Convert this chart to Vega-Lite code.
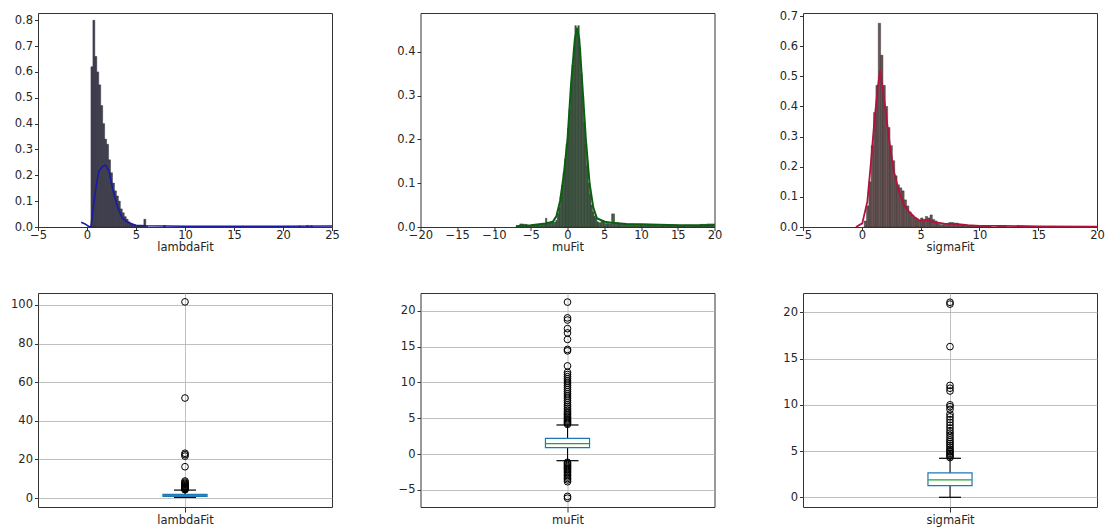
{
  "$schema": "https://vega.github.io/schema/vega-lite/v6.json",
  "background": "white",
  "padding": {"left": 10, "top": 9, "right": 5, "bottom": 3},
  "config": {
    "font": "DejaVu Sans",
    "view": {"stroke": "#333333", "strokeWidth": 1},
    "axis": {
      "labelFont": "DejaVu Sans", "labelFontSize": 11.5, "labelColor": "#262626",
      "titleFont": "DejaVu Sans", "titleFontSize": 11.5, "titleFontWeight": "normal", "titleColor": "#262626",
      "tickColor": "#333333", "tickSize": 3.5, "labelPadding": 2, "titlePadding": 3,
      "labelOverlap": false, "labelFlush": false, "labelBound": false,
      "domain": false, "grid": false, "gridColor": "#b0b0b0", "gridWidth": 0.8
    }
  },
  "datasets": {
    "lambdaHist": [
      {"x": 0.4, "end": 0.6, "density": 0.62},
      {"x": 0.6, "end": 0.8, "density": 0.8},
      {"x": 0.8, "end": 1.0, "density": 0.66},
      {"x": 1.0, "end": 1.2, "density": 0.6},
      {"x": 1.2, "end": 1.4, "density": 0.55},
      {"x": 1.4, "end": 1.6, "density": 0.47},
      {"x": 1.6, "end": 1.8, "density": 0.4},
      {"x": 1.8, "end": 2.0, "density": 0.34},
      {"x": 2.0, "end": 2.2, "density": 0.32},
      {"x": 2.2, "end": 2.4, "density": 0.26},
      {"x": 2.4, "end": 2.6, "density": 0.21},
      {"x": 2.6, "end": 2.8, "density": 0.17},
      {"x": 2.8, "end": 3.0, "density": 0.14},
      {"x": 3.0, "end": 3.2, "density": 0.12},
      {"x": 3.2, "end": 3.4, "density": 0.1},
      {"x": 3.4, "end": 3.6, "density": 0.07},
      {"x": 3.6, "end": 3.8, "density": 0.055},
      {"x": 3.8, "end": 4.0, "density": 0.04},
      {"x": 4.0, "end": 4.2, "density": 0.03},
      {"x": 4.2, "end": 4.4, "density": 0.02},
      {"x": 4.4, "end": 4.6, "density": 0.015},
      {"x": 4.6, "end": 4.8, "density": 0.01},
      {"x": 4.8, "end": 5.0, "density": 0.008},
      {"x": 5.0, "end": 5.2, "density": 0.006},
      {"x": 5.2, "end": 5.4, "density": 0.005},
      {"x": 5.4, "end": 5.6, "density": 0.004},
      {"x": 5.6, "end": 5.8, "density": 0.004},
      {"x": 5.8, "end": 6.0, "density": 0.03},
      {"x": 6.0, "end": 6.2, "density": 0.004},
      {"x": 7.8, "end": 8.0, "density": 0.006},
      {"x": 15.8, "end": 16.0, "density": 0.003},
      {"x": 21.6, "end": 21.8, "density": 0.004},
      {"x": 22.4, "end": 22.6, "density": 0.006},
      {"x": 22.8, "end": 23.0, "density": 0.005}
    ],
    "lambdaKde": [
      {"x": -0.6, "density": 0.018},
      {"x": -0.2, "density": 0.012},
      {"x": 0.1, "density": 0.004},
      {"x": 0.4, "density": 0.0},
      {"x": 0.65, "density": 0.08},
      {"x": 0.9, "density": 0.15},
      {"x": 1.2, "density": 0.215},
      {"x": 1.5, "density": 0.232},
      {"x": 1.9, "density": 0.24},
      {"x": 2.25, "density": 0.215},
      {"x": 2.6, "density": 0.15},
      {"x": 3.1, "density": 0.08},
      {"x": 3.6, "density": 0.034},
      {"x": 4.3, "density": 0.015},
      {"x": 5.0, "density": 0.007},
      {"x": 6.0, "density": 0.005},
      {"x": 10.0, "density": 0.003},
      {"x": 15.0, "density": 0.003},
      {"x": 20.0, "density": 0.003},
      {"x": 25.0, "density": 0.004}
    ],
    "muHist": [
      {"x": -7.0, "end": -6.5, "density": 0.003},
      {"x": -6.5, "end": -6.0, "density": 0.007},
      {"x": -6.0, "end": -5.5, "density": 0.006},
      {"x": -5.5, "end": -5.0, "density": 0.003},
      {"x": -5.0, "end": -4.5, "density": 0.004},
      {"x": -4.5, "end": -4.0, "density": 0.005},
      {"x": -4.0, "end": -3.5, "density": 0.006},
      {"x": -3.5, "end": -3.0, "density": 0.007},
      {"x": -3.0, "end": -2.8, "density": 0.02},
      {"x": -2.8, "end": -2.4, "density": 0.008},
      {"x": -2.4, "end": -2.0, "density": 0.009},
      {"x": -2.0, "end": -1.6, "density": 0.011},
      {"x": -1.6, "end": -1.4, "density": 0.015},
      {"x": -1.4, "end": -1.2, "density": 0.03},
      {"x": -1.2, "end": -1.0, "density": 0.045},
      {"x": -1.0, "end": -0.8, "density": 0.07},
      {"x": -0.8, "end": -0.6, "density": 0.095},
      {"x": -0.6, "end": -0.4, "density": 0.125},
      {"x": -0.4, "end": -0.2, "density": 0.155},
      {"x": -0.2, "end": 0.0, "density": 0.19},
      {"x": 0.0, "end": 0.2, "density": 0.225},
      {"x": 0.2, "end": 0.4, "density": 0.27},
      {"x": 0.4, "end": 0.6, "density": 0.32},
      {"x": 0.6, "end": 0.8, "density": 0.37},
      {"x": 0.8, "end": 1.0, "density": 0.41},
      {"x": 1.0, "end": 1.2, "density": 0.46},
      {"x": 1.2, "end": 1.4, "density": 0.445},
      {"x": 1.4, "end": 1.6, "density": 0.46},
      {"x": 1.6, "end": 1.8, "density": 0.41},
      {"x": 1.8, "end": 2.0, "density": 0.35},
      {"x": 2.0, "end": 2.2, "density": 0.3},
      {"x": 2.2, "end": 2.4, "density": 0.24},
      {"x": 2.4, "end": 2.6, "density": 0.19},
      {"x": 2.6, "end": 2.8, "density": 0.14},
      {"x": 2.8, "end": 3.0, "density": 0.1},
      {"x": 3.0, "end": 3.2, "density": 0.075},
      {"x": 3.2, "end": 3.4, "density": 0.05},
      {"x": 3.4, "end": 3.6, "density": 0.035},
      {"x": 3.6, "end": 3.8, "density": 0.025},
      {"x": 3.8, "end": 4.0, "density": 0.02},
      {"x": 4.0, "end": 4.2, "density": 0.012},
      {"x": 4.2, "end": 4.6, "density": 0.01},
      {"x": 4.6, "end": 5.0, "density": 0.015},
      {"x": 5.0, "end": 5.5, "density": 0.008},
      {"x": 5.5, "end": 6.0, "density": 0.008},
      {"x": 6.0, "end": 6.4, "density": 0.03},
      {"x": 6.4, "end": 7.0, "density": 0.01},
      {"x": 7.0, "end": 8.0, "density": 0.008},
      {"x": 8.0, "end": 9.0, "density": 0.007},
      {"x": 9.0, "end": 10.0, "density": 0.006},
      {"x": 10.0, "end": 11.0, "density": 0.006},
      {"x": 11.0, "end": 12.0, "density": 0.005},
      {"x": 12.0, "end": 13.0, "density": 0.004},
      {"x": 13.0, "end": 14.0, "density": 0.004},
      {"x": 14.0, "end": 15.0, "density": 0.005},
      {"x": 15.0, "end": 16.0, "density": 0.003},
      {"x": 16.0, "end": 17.0, "density": 0.004},
      {"x": 17.0, "end": 18.0, "density": 0.003},
      {"x": 18.0, "end": 19.0, "density": 0.006},
      {"x": 19.0, "end": 20.0, "density": 0.007}
    ],
    "muKde": [
      {"x": -7.0, "density": 0.002},
      {"x": -5.0, "density": 0.004},
      {"x": -3.0, "density": 0.008},
      {"x": -2.0, "density": 0.012},
      {"x": -1.5, "density": 0.025},
      {"x": -1.0, "density": 0.06},
      {"x": -0.5, "density": 0.12},
      {"x": 0.0, "density": 0.2},
      {"x": 0.5, "density": 0.33},
      {"x": 1.0, "density": 0.43},
      {"x": 1.3, "density": 0.455},
      {"x": 1.6, "density": 0.43},
      {"x": 2.0, "density": 0.33},
      {"x": 2.5, "density": 0.2},
      {"x": 3.0, "density": 0.1},
      {"x": 3.5, "density": 0.045},
      {"x": 4.0, "density": 0.02},
      {"x": 5.0, "density": 0.012},
      {"x": 6.0, "density": 0.01},
      {"x": 8.0, "density": 0.007},
      {"x": 10.0, "density": 0.006},
      {"x": 15.0, "density": 0.004},
      {"x": 20.0, "density": 0.004}
    ],
    "sigmaHist": [
      {"x": 0.2, "end": 0.4, "density": 0.02},
      {"x": 0.4, "end": 0.6, "density": 0.07},
      {"x": 0.6, "end": 0.8, "density": 0.15},
      {"x": 0.8, "end": 1.0, "density": 0.27},
      {"x": 1.0, "end": 1.2, "density": 0.38},
      {"x": 1.2, "end": 1.4, "density": 0.47},
      {"x": 1.4, "end": 1.6, "density": 0.676},
      {"x": 1.6, "end": 1.8, "density": 0.57},
      {"x": 1.8, "end": 2.0, "density": 0.47},
      {"x": 2.0, "end": 2.2, "density": 0.4},
      {"x": 2.2, "end": 2.4, "density": 0.33},
      {"x": 2.4, "end": 2.6, "density": 0.27},
      {"x": 2.6, "end": 2.8, "density": 0.22},
      {"x": 2.8, "end": 3.0, "density": 0.17},
      {"x": 3.0, "end": 3.2, "density": 0.14},
      {"x": 3.2, "end": 3.4, "density": 0.13},
      {"x": 3.4, "end": 3.6, "density": 0.12},
      {"x": 3.6, "end": 3.8, "density": 0.09},
      {"x": 3.8, "end": 4.0, "density": 0.07},
      {"x": 4.0, "end": 4.2, "density": 0.05},
      {"x": 4.2, "end": 4.4, "density": 0.04},
      {"x": 4.4, "end": 4.6, "density": 0.03},
      {"x": 4.6, "end": 4.8, "density": 0.025},
      {"x": 4.8, "end": 5.0, "density": 0.02},
      {"x": 5.0, "end": 5.2, "density": 0.03},
      {"x": 5.2, "end": 5.4, "density": 0.025},
      {"x": 5.4, "end": 5.6, "density": 0.035},
      {"x": 5.6, "end": 5.8, "density": 0.03},
      {"x": 5.8, "end": 6.0, "density": 0.04},
      {"x": 6.0, "end": 6.2, "density": 0.025},
      {"x": 6.2, "end": 6.4, "density": 0.02},
      {"x": 6.4, "end": 6.6, "density": 0.012},
      {"x": 6.6, "end": 7.0, "density": 0.008},
      {"x": 7.0, "end": 7.4, "density": 0.012},
      {"x": 7.4, "end": 7.8, "density": 0.015},
      {"x": 7.8, "end": 8.2, "density": 0.013},
      {"x": 8.2, "end": 8.6, "density": 0.008},
      {"x": 8.6, "end": 9.0, "density": 0.006},
      {"x": 9.0, "end": 10.0, "density": 0.004},
      {"x": 10.0, "end": 11.0, "density": 0.003},
      {"x": 11.5, "end": 12.3, "density": 0.005},
      {"x": 16.0, "end": 16.5, "density": 0.002}
    ],
    "sigmaKde": [
      {"x": -0.5, "density": 0.0},
      {"x": 0.04, "density": 0.012},
      {"x": 0.47, "density": 0.084},
      {"x": 0.76, "density": 0.206},
      {"x": 1.04, "density": 0.338},
      {"x": 1.32, "density": 0.449},
      {"x": 1.55, "density": 0.52},
      {"x": 1.89, "density": 0.427},
      {"x": 2.17, "density": 0.338},
      {"x": 2.46, "density": 0.25},
      {"x": 2.74, "density": 0.183},
      {"x": 3.16, "density": 0.117},
      {"x": 3.59, "density": 0.073},
      {"x": 4.01, "density": 0.051},
      {"x": 4.44, "density": 0.034},
      {"x": 4.86, "density": 0.023},
      {"x": 5.5, "density": 0.022},
      {"x": 6.2, "density": 0.016},
      {"x": 7.0, "density": 0.011},
      {"x": 8.0, "density": 0.01},
      {"x": 9.0, "density": 0.006},
      {"x": 10.0, "density": 0.004},
      {"x": 12.0, "density": 0.004},
      {"x": 15.0, "density": 0.002},
      {"x": 20.0, "density": 0.001}
    ],
    "lambdaBox": [{"low": 0.3, "q1": 0.85, "median": 1.3, "q3": 1.9, "high": 4.1}],
    "muBox": [{"low": -0.92, "q1": 0.9, "median": 1.45, "q3": 2.2, "high": 4.06}],
    "sigmaBox": [{"low": 0.0, "q1": 1.26, "median": 1.88, "q3": 2.64, "high": 4.22}],
    "lambdaOut": [
      {"v": 4.3}, {"v": 4.5}, {"v": 4.7}, {"v": 4.9}, {"v": 5.1}, {"v": 5.4}, {"v": 5.7}, {"v": 6.0},
      {"v": 6.3}, {"v": 6.7}, {"v": 7.1}, {"v": 7.6}, {"v": 8.2}, {"v": 8.8}, {"v": 16.2}, {"v": 21.7},
      {"v": 22.5}, {"v": 23.2}, {"v": 51.8}, {"v": 101.6}
    ],
    "muOut": [
      {"v": 4.15}, {"v": 4.3}, {"v": 4.45}, {"v": 4.6}, {"v": 4.75}, {"v": 4.9}, {"v": 5.1}, {"v": 5.3},
      {"v": 5.5}, {"v": 5.7}, {"v": 5.9}, {"v": 6.15}, {"v": 6.4}, {"v": 6.65}, {"v": 6.9}, {"v": 7.2},
      {"v": 7.5}, {"v": 7.8}, {"v": 8.1}, {"v": 8.4}, {"v": 8.7}, {"v": 9.0}, {"v": 9.3}, {"v": 9.6},
      {"v": 9.9}, {"v": 10.2}, {"v": 10.5}, {"v": 10.8}, {"v": 11.1}, {"v": 11.4}, {"v": 12.3}, {"v": 14.4},
      {"v": 14.6}, {"v": 16.0}, {"v": 16.9}, {"v": 17.5}, {"v": 18.7}, {"v": 19.0}, {"v": 21.2},
      {"v": -1.15}, {"v": -1.3}, {"v": -1.45}, {"v": -1.6}, {"v": -1.75}, {"v": -1.9}, {"v": -2.05},
      {"v": -2.2}, {"v": -2.4}, {"v": -2.6}, {"v": -2.8}, {"v": -3.0}, {"v": -3.2}, {"v": -3.4},
      {"v": -3.6}, {"v": -3.85}, {"v": -5.9}, {"v": -6.15}
    ],
    "sigmaOut": [
      {"v": 4.3}, {"v": 4.45}, {"v": 4.6}, {"v": 4.75}, {"v": 4.9}, {"v": 5.05}, {"v": 5.2}, {"v": 5.4},
      {"v": 5.6}, {"v": 5.8}, {"v": 6.0}, {"v": 6.2}, {"v": 6.45}, {"v": 6.7}, {"v": 6.95}, {"v": 7.2},
      {"v": 7.5}, {"v": 7.8}, {"v": 8.1}, {"v": 8.4}, {"v": 8.7}, {"v": 9.0}, {"v": 9.5}, {"v": 9.8},
      {"v": 10.0}, {"v": 11.5}, {"v": 11.8}, {"v": 12.1}, {"v": 16.3}, {"v": 20.9}, {"v": 21.1}
    ]
  },
  "columns": 3,
  "spacing": {"row": 66, "column": 88.5},
  "bounds": "flush",
  "concat": [
    {
      "width": 294, "height": 214,
      "encoding": {
        "x": {"field": "x", "type": "quantitative", "scale": {"domain": [-5, 25], "nice": false, "zero": false},
              "axis": {"values": [-5, 0, 5, 10, 15, 20, 25], "tickCount": 7, "title": "lambdaFit", "labelPadding": -1, "titlePadding": 0}},
        "y": {"field": "density", "type": "quantitative", "scale": {"domain": [0, 0.828], "nice": false},
              "axis": {"values": [0, 0.1, 0.2, 0.3, 0.4, 0.5, 0.6, 0.7, 0.8], "tickCount": 9, "format": ".1f", "title": null}}
      },
      "layer": [
        {
          "data": {"name": "lambdaHist"},
          "mark": {"type": "rect", "fill": "#33334a", "fillOpacity": 0.92, "stroke": "#1e1e28", "strokeWidth": 0.4},
          "encoding": {"x2": {"field": "end"}, "y2": {"datum": 0}}
        },
        {
          "data": {"name": "lambdaKde"},
          "mark": {"type": "line", "color": "#1a1aa6", "strokeWidth": 1.6},
          "encoding": {}
        }
      ]
    },
    {
      "width": 294, "height": 214,
      "encoding": {
        "x": {"field": "x", "type": "quantitative", "scale": {"domain": [-20, 20], "nice": false, "zero": false},
              "axis": {"values": [-20, -15, -10, -5, 0, 5, 10, 15, 20], "tickCount": 9, "title": "muFit", "labelPadding": -1, "titlePadding": 0}},
        "y": {"field": "density", "type": "quantitative", "scale": {"domain": [0, 0.489], "nice": false},
              "axis": {"values": [0, 0.1, 0.2, 0.3, 0.4], "tickCount": 5, "format": ".1f", "title": null}}
      },
      "layer": [
        {
          "data": {"name": "muHist"},
          "mark": {"type": "rect", "fill": "#35503a", "fillOpacity": 0.92, "stroke": "#1e2a1e", "strokeWidth": 0.4},
          "encoding": {"x2": {"field": "end"}, "y2": {"datum": 0}}
        },
        {
          "data": {"name": "muKde"},
          "mark": {"type": "line", "color": "#0b6010", "strokeWidth": 2},
          "encoding": {}
        }
      ]
    },
    {
      "width": 294, "height": 214,
      "encoding": {
        "x": {"field": "x", "type": "quantitative", "scale": {"domain": [-5, 20], "nice": false, "zero": false},
              "axis": {"values": [-5, 0, 5, 10, 15, 20], "tickCount": 6, "title": "sigmaFit", "labelPadding": -1, "titlePadding": 0}},
        "y": {"field": "density", "type": "quantitative", "scale": {"domain": [0, 0.71], "nice": false},
              "axis": {"values": [0, 0.1, 0.2, 0.3, 0.4, 0.5, 0.6, 0.7], "tickCount": 8, "format": ".1f", "title": null}}
      },
      "layer": [
        {
          "data": {"name": "sigmaHist"},
          "mark": {"type": "rect", "fill": "#5a4747", "fillOpacity": 0.92, "stroke": "#2e2424", "strokeWidth": 0.4},
          "encoding": {"x2": {"field": "end"}, "y2": {"datum": 0}}
        },
        {
          "data": {"name": "sigmaKde"},
          "mark": {"type": "line", "color": "#b3123c", "strokeWidth": 1.8},
          "encoding": {}
        }
      ]
    },
    {
      "width": 294, "height": 214,
      "layer": [
        {
          "data": {"name": "lambdaBox"},
          "mark": {"type": "rule", "color": "black", "strokeWidth": 1},
          "encoding": {
            "x": {"datum": 1, "type": "quantitative", "scale": {"domain": [0.5, 1.5], "nice": false, "zero": false},
                  "axis": {"values": [1], "labelExpr": "'lambdaFit'", "grid": true, "title": null, "tickSize": 5, "labelPadding": 2.5}},
            "y": {"field": "low", "type": "quantitative", "scale": {"domain": [-4.66, 106.2], "nice": false, "zero": false},
                  "axis": {"values": [0, 20, 40, 60, 80, 100], "grid": true, "title": null}},
            "y2": {"field": "high"}
          }
        },
        {
          "data": {"name": "lambdaBox"},
          "mark": {"type": "rule", "color": "black", "strokeWidth": 1.2},
          "encoding": {"x": {"datum": 0.9625, "type": "quantitative"}, "x2": {"datum": 1.0375}, "y": {"field": "high", "type": "quantitative"}}
        },
        {
          "data": {"name": "lambdaBox"},
          "mark": {"type": "rule", "color": "black", "strokeWidth": 1.2},
          "encoding": {"x": {"datum": 0.9625, "type": "quantitative"}, "x2": {"datum": 1.0375}, "y": {"field": "low", "type": "quantitative"}}
        },
        {
          "data": {"name": "lambdaBox"},
          "mark": {"type": "rect", "fill": "#1f77b4", "fillOpacity": 0.4, "stroke": "#1f77b4", "strokeWidth": 1.2},
          "encoding": {"x": {"datum": 0.925, "type": "quantitative"}, "x2": {"datum": 1.075}, "y": {"field": "q1", "type": "quantitative"}, "y2": {"field": "q3"}}
        },
        {
          "data": {"name": "lambdaBox"},
          "mark": {"type": "rule", "color": "#2ca02c", "strokeWidth": 1.2},
          "encoding": {"x": {"datum": 0.925, "type": "quantitative"}, "x2": {"datum": 1.075}, "y": {"field": "median", "type": "quantitative"}}
        },
        {
          "data": {"name": "lambdaOut"},
          "mark": {"type": "point", "shape": "circle", "filled": false, "stroke": "black", "strokeWidth": 1, "size": 45, "opacity": 1},
          "encoding": {"x": {"datum": 1, "type": "quantitative"}, "y": {"field": "v", "type": "quantitative"}}
        }
      ]
    },
    {
      "width": 294, "height": 214,
      "layer": [
        {
          "data": {"name": "muBox"},
          "mark": {"type": "rule", "color": "black", "strokeWidth": 1},
          "encoding": {
            "x": {"datum": 1, "type": "quantitative", "scale": {"domain": [0.5, 1.5], "nice": false, "zero": false},
                  "axis": {"values": [1], "labelExpr": "'muFit'", "grid": true, "title": null, "tickSize": 5, "labelPadding": 2.5}},
            "y": {"field": "low", "type": "quantitative", "scale": {"domain": [-7.38, 22.47], "nice": false, "zero": false},
                  "axis": {"values": [-5, 0, 5, 10, 15, 20], "grid": true, "title": null}},
            "y2": {"field": "high"}
          }
        },
        {
          "data": {"name": "muBox"},
          "mark": {"type": "rule", "color": "black", "strokeWidth": 1.2},
          "encoding": {"x": {"datum": 0.9625, "type": "quantitative"}, "x2": {"datum": 1.0375}, "y": {"field": "high", "type": "quantitative"}}
        },
        {
          "data": {"name": "muBox"},
          "mark": {"type": "rule", "color": "black", "strokeWidth": 1.2},
          "encoding": {"x": {"datum": 0.9625, "type": "quantitative"}, "x2": {"datum": 1.0375}, "y": {"field": "low", "type": "quantitative"}}
        },
        {
          "data": {"name": "muBox"},
          "mark": {"type": "rect", "fill": "white", "stroke": "#1f77b4", "strokeWidth": 1.2},
          "encoding": {"x": {"datum": 0.925, "type": "quantitative"}, "x2": {"datum": 1.075}, "y": {"field": "q1", "type": "quantitative"}, "y2": {"field": "q3"}}
        },
        {
          "data": {"name": "muBox"},
          "mark": {"type": "rule", "color": "#2ca02c", "strokeWidth": 1.2},
          "encoding": {"x": {"datum": 0.925, "type": "quantitative"}, "x2": {"datum": 1.075}, "y": {"field": "median", "type": "quantitative"}}
        },
        {
          "data": {"name": "muOut"},
          "mark": {"type": "point", "shape": "circle", "filled": false, "stroke": "black", "strokeWidth": 1, "size": 45, "opacity": 1},
          "encoding": {"x": {"datum": 1, "type": "quantitative"}, "y": {"field": "v", "type": "quantitative"}}
        }
      ]
    },
    {
      "width": 294, "height": 214,
      "layer": [
        {
          "data": {"name": "sigmaBox"},
          "mark": {"type": "rule", "color": "black", "strokeWidth": 1},
          "encoding": {
            "x": {"datum": 1, "type": "quantitative", "scale": {"domain": [0.5, 1.5], "nice": false, "zero": false},
                  "axis": {"values": [1], "labelExpr": "'sigmaFit'", "grid": true, "title": null, "tickSize": 5, "labelPadding": 2.5}},
            "y": {"field": "low", "type": "quantitative", "scale": {"domain": [-1.05, 22.1], "nice": false, "zero": false},
                  "axis": {"values": [0, 5, 10, 15, 20], "grid": true, "title": null}},
            "y2": {"field": "high"}
          }
        },
        {
          "data": {"name": "sigmaBox"},
          "mark": {"type": "rule", "color": "black", "strokeWidth": 1.2},
          "encoding": {"x": {"datum": 0.9625, "type": "quantitative"}, "x2": {"datum": 1.0375}, "y": {"field": "high", "type": "quantitative"}}
        },
        {
          "data": {"name": "sigmaBox"},
          "mark": {"type": "rule", "color": "black", "strokeWidth": 1.2},
          "encoding": {"x": {"datum": 0.9625, "type": "quantitative"}, "x2": {"datum": 1.0375}, "y": {"field": "low", "type": "quantitative"}}
        },
        {
          "data": {"name": "sigmaBox"},
          "mark": {"type": "rect", "fill": "white", "stroke": "#1f77b4", "strokeWidth": 1.2},
          "encoding": {"x": {"datum": 0.925, "type": "quantitative"}, "x2": {"datum": 1.075}, "y": {"field": "q1", "type": "quantitative"}, "y2": {"field": "q3"}}
        },
        {
          "data": {"name": "sigmaBox"},
          "mark": {"type": "rule", "color": "#2ca02c", "strokeWidth": 1.2},
          "encoding": {"x": {"datum": 0.925, "type": "quantitative"}, "x2": {"datum": 1.075}, "y": {"field": "median", "type": "quantitative"}}
        },
        {
          "data": {"name": "sigmaOut"},
          "mark": {"type": "point", "shape": "circle", "filled": false, "stroke": "black", "strokeWidth": 1, "size": 45, "opacity": 1},
          "encoding": {"x": {"datum": 1, "type": "quantitative"}, "y": {"field": "v", "type": "quantitative"}}
        }
      ]
    }
  ]
}
